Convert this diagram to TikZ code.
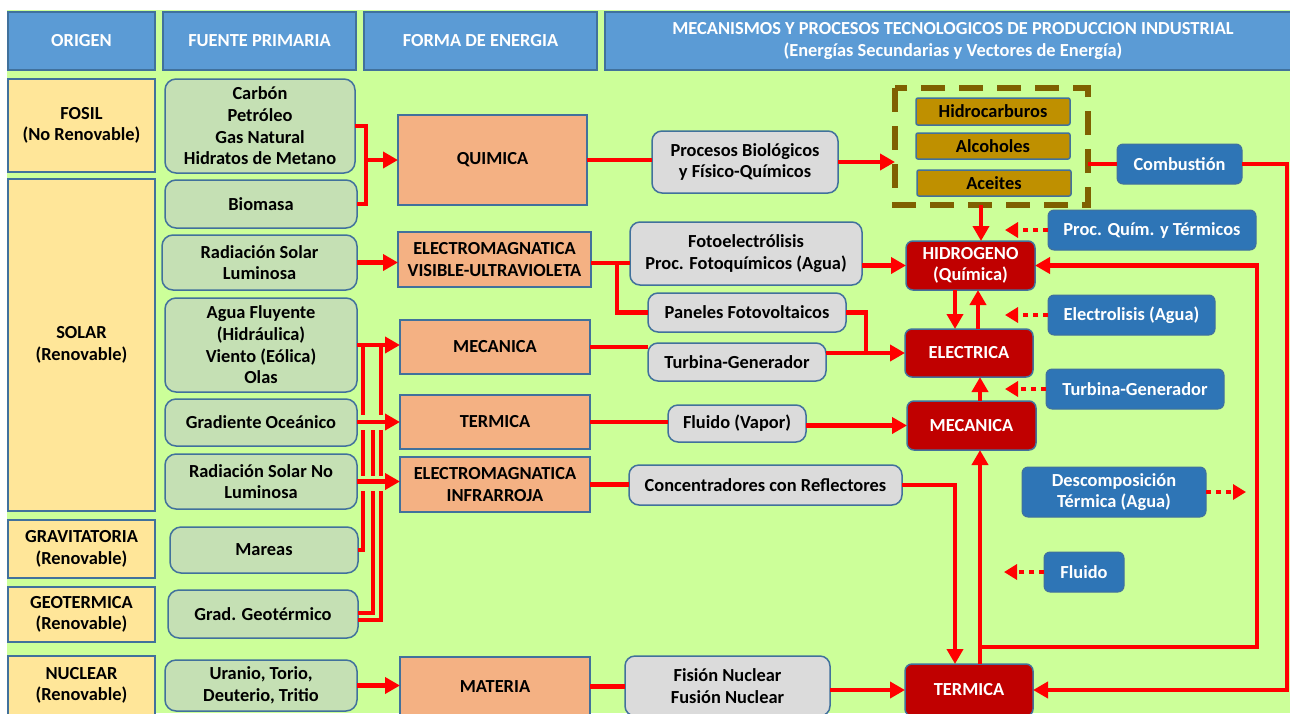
\documentclass[tikz,border=0pt]{standalone}
\usepackage{fontspec}
\setmainfont{Carlito}
\usetikzlibrary{arrows.meta,calc}
\definecolor{bgG}{HTML}{CCFF99}
\definecolor{hdrF}{HTML}{5B9BD5}
\definecolor{bdr}{HTML}{41719C}
\definecolor{yelF}{HTML}{FFE699}
\definecolor{srcF}{HTML}{C5E0B4}
\definecolor{peach}{HTML}{F4B183}
\definecolor{greyF}{HTML}{DBDBDB}
\definecolor{goldF}{HTML}{BF9000}
\definecolor{brownD}{HTML}{7F6000}
\definecolor{dkred}{HTML}{C00000}
\definecolor{blueM}{HTML}{2E75B6}
\definecolor{lred}{HTML}{FF0000}
% box helper: style, x1, y1, x2, y2, name, text
\newcommand\bx[7]{\node[#1,minimum width={#4-#2},minimum height={#5-#3}] (#6) at ({(#2+#4)/2},{(#3+#5)/2}) {#7};}
\begin{document}
\begin{tikzpicture}[x=1pt,y=-1pt,
  font=\fontsize{18.4}{21.6}\selectfont\bfseries,
  every node/.style={inner sep=0pt,outer sep=0pt,align=center},
  hdr/.style={draw=bdr,fill=hdrF,text=white,line width=1.2pt},
  org/.style={draw=bdr,fill=yelF,line width=1.5pt},
  src/.style={draw=bdr,fill=srcF,rounded corners=11pt,line width=1.5pt},
  frm/.style={draw=bdr,fill=peach,line width=1.5pt},
  prc/.style={draw=bdr,fill=greyF,rounded corners=10pt,line width=1.5pt},
  fuel/.style={draw=bdr,fill=goldF,rounded corners=2pt,line width=1.5pt},
  outr/.style={draw=bdr,fill=dkred,text=white,rounded corners=7pt,line width=1.5pt},
  mech/.style={draw=bdr,fill=blueM,text=white,rounded corners=6pt,line width=1pt},
  ln/.style={draw=lred,line width=4.5pt},
  arr/.style={ln,-{Triangle[length=15pt,width=16pt]}},
  dotarr/.style={ln,dash pattern=on 5pt off 5pt,-{Triangle[length=13pt,width=15pt]}},
  casing/.style={draw=bgG,line width=15pt}
]
% canvas
\fill[white] (0,0) rectangle (1290,713);
\fill[bgG] (7,10) rectangle (1290,713);
\useasboundingbox (0,0) rectangle (1290,713);

% column headers
\bx{hdr}{8}{12}{155}{70}{h1}{ORIGEN}
\bx{hdr}{163}{12}{356}{70}{h2}{FUENTE PRIMARIA}
\bx{hdr}{364}{12}{597}{70}{h3}{FORMA DE ENERGIA}
\bx{hdr}{605}{12}{1301}{70}{h4}{MECANISMOS Y PROCESOS TECNOLOGICOS DE PRODUCCION INDUSTRIAL\\(Energías Secundarias y Vectores de Energía)}

% origin
\bx{org}{8}{79}{155}{172}{fosil}{FOSIL\\(No Renovable)}
\bx{org}{8}{179}{155}{511}{solar}{SOLAR\\(Renovable)}
\bx{org}{8}{520}{155}{578}{grav}{GRAVITATORIA\\(Renovable)}
\bx{org}{8}{587}{155}{642}{geo}{GEOTERMICA\\(Renovable)}
\bx{org}{8}{656}{155}{715}{nuc}{NUCLEAR\\(Renovable)}

% primary sources
\bx{src}{165}{79}{355}{173}{carbon}{Carbón\\Petróleo\\Gas Natural\\Hidratos de Metano}
\bx{src}{165}{180}{357}{228}{biomasa}{Biomasa}
\bx{src}{162}{235}{357}{290}{rsl}{Radiación Solar\\Luminosa}
\bx{src}{165}{298}{357}{392}{agua}{Agua Fluyente\\(Hidráulica)\\Viento (Eólica)\\Olas}
\bx{src}{165}{399}{357}{446}{grad}{Gradiente Oceánico}
\bx{src}{165}{454}{357}{509}{rsnl}{Radiación Solar No\\Luminosa}
\bx{src}{170}{527}{358}{573}{mareas}{Mareas}
\bx{src}{168}{590}{358}{638}{geot}{Grad. Geotérmico}
\bx{src}{165}{660}{357}{711}{uran}{Uranio, Torio,\\Deuterio, Tritio}

% energy forms
\bx{frm}{398}{115}{587}{205}{quim}{QUIMICA}
\bx{frm}{398}{232}{591}{287}{emv}{ELECTROMAGNATICA\\VISIBLE-ULTRAVIOLETA}
\bx{frm}{400}{320}{590}{374}{mec}{MECANICA}
\bx{frm}{400}{395}{590}{449}{term}{TERMICA}
\bx{frm}{400}{457}{590}{512}{emi}{ELECTROMAGNATICA\\INFRARROJA}
\bx{frm}{400}{657}{590}{716}{mat}{MATERIA}

% processes
\bx{prc}{652}{131}{838}{193}{pbio}{Procesos Biológicos\\y Físico-Químicos}
\bx{prc}{630}{222}{862}{285}{foto}{Fotoelectrólisis\\Proc. Fotoquímicos (Agua)}
\bx{prc}{648}{293}{846}{332}{pan}{Paneles Fotovoltaicos}
\bx{prc}{648}{343}{826}{381}{turb}{Turbina-Generador}
\bx{prc}{668}{405}{806}{442}{flu}{Fluido (Vapor)}
\bx{prc}{629}{465}{902}{505}{conc}{Concentradores con Reflectores}
\bx{prc}{625}{656}{830}{716}{fis}{Fisión Nuclear\\Fusión Nuclear}

% fuels group
\draw[brownD,line width=6.5pt,dash pattern=on 24pt off 14pt] (895,88) rectangle (1088,205);
\coordinate (dbw) at (895,160);
\coordinate (dbe) at (1088,164);
\coordinate (dbs) at (981,205);
\bx{fuel}{916}{98}{1070}{125}{hc}{Hidrocarburos}
\bx{fuel}{916}{133}{1070}{159}{alc}{Alcoholes}
\bx{fuel}{917}{170}{1071}{196}{ace}{Aceites}

% secondary energies
\bx{outr}{906}{241}{1035}{290}{hid}{HIDROGENO\\(Química)}
\bx{outr}{905}{329}{1033}{377}{ele}{ELECTRICA}
\bx{outr}{907}{401}{1036}{450}{mecr}{MECANICA}
\bx{outr}{905}{664}{1033}{716}{terr}{TERMICA}

% conversion mechanisms
\bx{mech}{1117}{144}{1242}{184}{comb}{Combustión}
\bx{mech}{1048}{210}{1256}{250}{pqt}{Proc. Quím. y Térmicos}
\bx{mech}{1048}{295}{1215}{335}{elec}{Electrolisis (Agua)}
\bx{mech}{1046}{369}{1224}{409}{tg}{Turbina-Generador}
\bx{mech}{1022}{467}{1206}{517}{desc}{Descomposición\\Térmica (Agua)}
\bx{mech}{1044}{552}{1124}{592}{fluido}{Fluido}

% routing columns
\coordinate (j1) at (366,0);
\coordinate (v1) at (363,0);
\coordinate (v2) at (373,0);
\coordinate (v3) at (381,0);
\coordinate (r2) at (0,263);
\coordinate (bx1) at (617,0);
\coordinate (bx2) at (866,0);
\coordinate (c1) at (955,0);
\coordinate (c2) at (980,0);
\coordinate (rx) at (1287,0);
\coordinate (rx2) at (1257,0);
\coordinate (lp) at (980,647);

% fossil sources
\draw[ln] (carbon.east) -| (j1 |- biomasa.east) -- (biomasa.east);
\draw[arr] (j1 |- quim.west) -- (quim.west);

% bundle from renewable sources
\draw[ln] (mareas.east) -| (v1 |- agua.east);
\draw[ln] ($(geot.east)+(0,-1)$) -| (v2 |- term.west);
\draw[ln] ($(geot.east)+(0,6)$) -| (v3 |- agua.east);
\draw[arr] (agua.east) -- (agua.east -| mec.west);
\draw[casing] (359,422) -- (388,422);
\draw[casing] (359,483) -- (388,483);
\draw[arr] (grad.east |- term.west) -- (term.west);
\draw[arr] (rsnl.east) -- (rsnl.east -| emi.west);
\draw[arr] (rsl.east) -- (rsl.east -| emv.west);
\draw[arr] (uran.east) -- (uran.east -| mat.west);

% chemical path
\draw[ln] (quim.east) -- (quim.east -| pbio.west);
\draw[arr] (pbio.east) -- (pbio.east -| dbw);
\draw[ln] (dbe) -- (dbe -| comb.west);
\draw[arr] (comb.east) -- (comb.east -| rx) -- (rx |- terr.east) -- (terr.east);
\draw[arr] (dbs) -- (dbs |- hid.north);

% electromagnetic path
\draw[ln] (emv.east |- r2) -- (foto.west |- r2);
\draw[ln] (bx1 |- r2) |- (pan.west);
\draw[arr] (foto.east |- hid.west) -- (hid.west);
\draw[ln] (pan.east) -| (bx2 |- ele.west);
\draw[arr] (turb.east |- ele.west) -- (ele.west);
\draw[ln] (mec.east) -- (mec.east -| turb.west);

% thermal path
\draw[ln] (term.east) -- (term.east -| flu.west);
\draw[arr] (flu.east |- mecr.west) -- (mecr.west);
\draw[ln] (emi.east) -- (emi.east -| conc.west);
\draw[arr] (conc.east) -| (c1 |- terr.north);
\draw[ln] (mat.east) -- (mat.east -| fis.west);
\draw[arr] (fis.east |- terr.west) -- (terr.west);

% exchanges between secondary energies
\draw[arr] (c1 |- hid.south) -- (c1 |- ele.north);
\draw[arr] ([xshift=23pt]c1 |- ele.north) -- ([xshift=23pt]c1 |- hid.south);
\draw[arr] (c2 |- mecr.north) -- (c2 |- ele.south);
\draw[arr] (c2 |- terr.north) -- (c2 |- mecr.south);
\draw[arr] (lp) -- (lp -| rx2) -- (rx2 |- hid.east) -- (hid.east);

% mechanism pointers
\draw[dotarr] (pqt.west) -- ++(-43,0);
\draw[dotarr] (elec.west) -- ++(-43,0);
\draw[dotarr] (tg.west) -- ++(-41,0);
\draw[dotarr] (desc.east) -- ++(40,0);
\draw[dotarr] (fluido.west) -- ++(-40,0);
\end{tikzpicture}
\end{document}
